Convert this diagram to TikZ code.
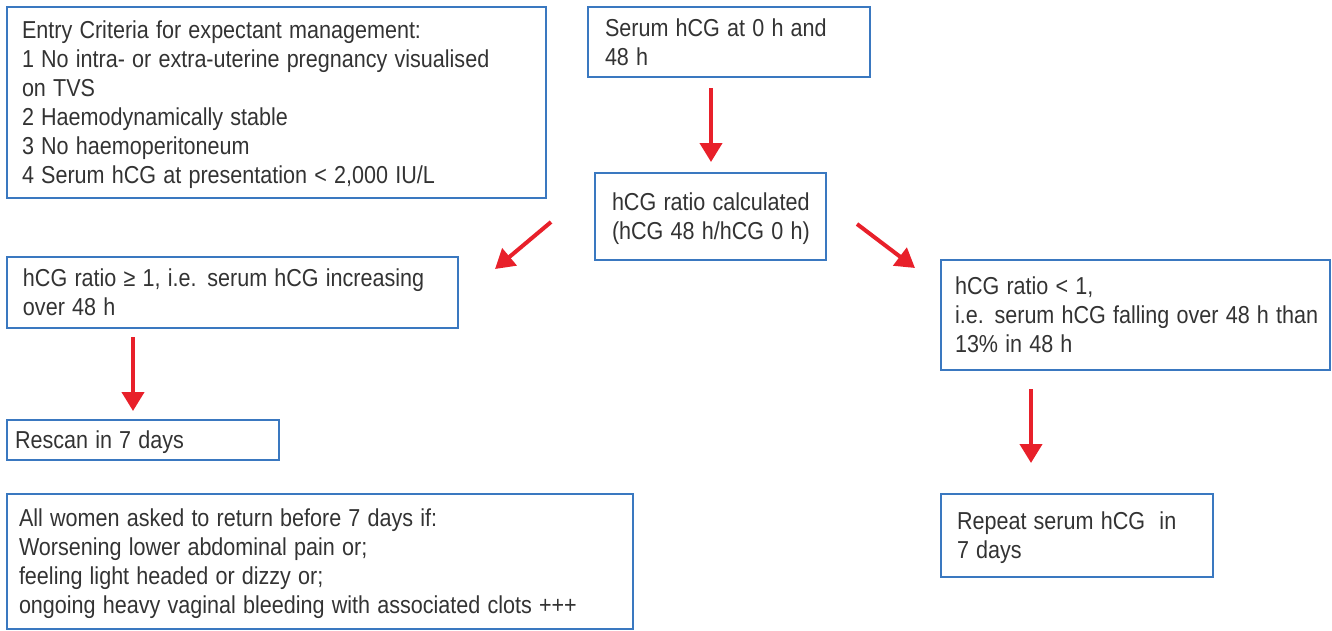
\documentclass[tikz,border=0pt]{standalone}
\usepackage{fontspec}
\usepackage{graphicx}
\setmainfont{Liberation Sans}
\usetikzlibrary{arrows.meta}
\definecolor{boxblue}{HTML}{3A78C0}
\definecolor{arrred}{HTML}{E8202A}
\definecolor{txt}{HTML}{333333}
\newcommand{\condtext}[1]{\raisebox{-3pt}[\height][\depth]{\scalebox{0.88}[1]{\begin{tabular}{@{}l@{}}#1\end{tabular}}}}
\tikzset{
  box/.style={draw=boxblue, line width=1.4pt, rectangle, align=left, text=txt,
    font=\fontsize{24.5pt}{29pt}\selectfont, inner ysep=0pt},
  arr/.style={draw=arrred, line width=4pt, -{Triangle[width=22pt,length=19pt]}, fill=arrred}
}
\begin{document}
\begin{tikzpicture}[x=1pt,y=-1pt]
\useasboundingbox (0,0) rectangle (1332,630);
\node[box, minimum width=539pt, minimum height=191pt, text width=509pt, inner xsep=15pt] (entry) at (276.5,102.5)
 {\condtext{Entry Criteria for expectant management:\\
  1 No intra- or extra-uterine pregnancy visualised\\
  on TVS\\
  2 Haemodynamically stable\\
  3 No haemoperitoneum\\
  4 Serum hCG at presentation < 2,000 IU/L}};
\node[box, minimum width=282pt, minimum height=70pt, text width=248pt, inner xsep=17pt] (serum) at (729,42)
 {\condtext{Serum hCG at 0 h and\\48 h}};
\node[box, minimum width=231pt, minimum height=87pt, text width=197pt, inner xsep=17pt] (ratio) at (710.5,216.5)
 {\condtext{hCG ratio calculated\\(hCG 48 h/hCG 0 h)}};
\node[box, minimum width=451pt, minimum height=71pt, text width=419pt, inner xsep=16pt] (ge) at (232.5,292.5)
 {\condtext{hCG ratio ≥ 1, i.e. serum hCG increasing\\over 48 h}};
\node[box, minimum width=272pt, minimum height=40pt, text width=256pt, inner xsep=8pt] (rescan) at (143,440)
 {\condtext{Rescan in 7 days}};
\node[box, minimum width=626pt, minimum height=135pt, text width=602pt, inner xsep=12pt] (women) at (320,561.5)
 {\condtext{All women asked to return before 7 days if:\\
  Worsening lower abdominal pain or;\\
  feeling light headed or dizzy or;\\
  ongoing heavy vaginal bleeding with associated clots +++}};
\node[box, minimum width=389pt, minimum height=110pt, text width=361pt, inner xsep=14pt] (lt) at (1135.5,315)
 {\condtext{hCG ratio < 1,\\
  i.e. serum hCG falling over 48 h than\\
  13\% in 48 h}};
\node[box, minimum width=272pt, minimum height=83pt, text width=240pt, inner xsep=16pt] (repeat) at (1077,535.5)
 {\condtext{Repeat serum hCG~~in\\7 days}};
% arrow end points
\coordinate (a1s) at (711,88);   \coordinate (a1e) at (711,162);
\coordinate (a2s) at (551,222);  \coordinate (a2e) at (495,269);
\coordinate (a3s) at (857,224);  \coordinate (a3e) at (915,268);
\coordinate (a4s) at (133,337);  \coordinate (a4e) at (133,411);
\coordinate (a5s) at (1031,389); \coordinate (a5e) at (1031,463);
\draw[arr] (a1s) -- (a1e);
\draw[arr] (a2s) -- (a2e);
\draw[arr] (a3s) -- (a3e);
\draw[arr] (a4s) -- (a4e);
\draw[arr] (a5s) -- (a5e);
\end{tikzpicture}
\end{document}
